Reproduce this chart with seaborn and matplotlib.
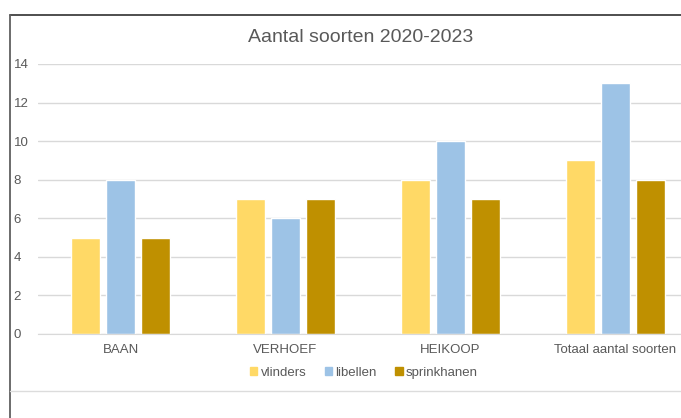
import matplotlib
matplotlib.use("Agg")
import matplotlib.pyplot as plt
import seaborn as sns
import pandas as pd
from matplotlib.lines import Line2D

categories = ["BAAN", "VERHOEF", "HEIKOOP", "Totaal aantal soorten"]
series = ["vlinders", "libellen", "sprinkhanen"]
vlinders = [5, 7, 8, 9]
libellen = [8, 6, 10, 13]
sprinkhanen = [5, 7, 7, 8]
colors = ["#FFD966", "#9DC3E6", "#BF9000"]

df = pd.DataFrame({
    "cat": categories * 3,
    "serie": [series[0]] * 4 + [series[1]] * 4 + [series[2]] * 4,
    "val": vlinders + libellen + sprinkhanen,
})

sns.set_style("white")
plt.rcParams["font.family"] = ["Liberation Sans", "DejaVu Sans"]

W, H = 681, 418
fig = plt.figure(figsize=(W / 100, H / 100), dpi=100)
left_px, right_px, top_px, bot_px = 38, 681, 64, 334
ax = fig.add_axes([left_px / W, 1 - bot_px / H, (right_px - left_px) / W, (bot_px - top_px) / H])

sns.barplot(data=df, x="cat", y="val", hue="serie", palette=colors,
            width=0.63, gap=0.17, ax=ax, legend=False, saturation=1)

xmax = -0.5 + (right_px - left_px) / 165.0
ax.set_xlim(-0.5, xmax)
ax.set_ylim(0, 14)
ax.set_yticks(range(0, 15, 2))
ax.yaxis.grid(True, color="#D9D9D9", linewidth=1)
ax.set_axisbelow(True)
for s in ["top", "right", "left"]:
    ax.spines[s].set_visible(False)
ax.spines["bottom"].set_color("#D9D9D9")
ax.set_xlabel("")
ax.set_ylabel("")
ax.tick_params(axis="both", length=0, labelsize=9.5, colors="#595959")
ax.tick_params(axis="x", pad=7)
ax.tick_params(axis="y", pad=17.5)
for lab in ax.get_yticklabels():
    lab.set_horizontalalignment("left")
for lab in ax.get_xticklabels():
    lab.set_clip_on(False)

fig.text(361 / W, 1 - 38 / H, "Aantal soorten 2020-2023", ha="center", va="center",
         fontsize=14, color="#595959")

handles = [plt.Rectangle((0, 0), 1, 1, color=c) for c in colors]
fig.legend(handles, series, loc="center", bbox_to_anchor=(364 / W, 1 - 373 / H),
           ncol=3, frameon=False, fontsize=9.5, handlelength=0.55, handleheight=0.55,
           handletextpad=0.25, columnspacing=1.4, labelcolor="#595959")

fig.add_artist(Line2D([10 / W, 1], [1 - 14.5 / H, 1 - 14.5 / H], color="#404040", linewidth=1.3))
fig.add_artist(Line2D([10 / W, 10 / W], [1 - 14.5 / H, 0], color="#606060", linewidth=1.3))
fig.add_artist(Line2D([10 / W, 1], [1 - 391 / H, 1 - 391 / H], color="#DCDCDC", linewidth=1))

fig.savefig("out.png", dpi=100)
